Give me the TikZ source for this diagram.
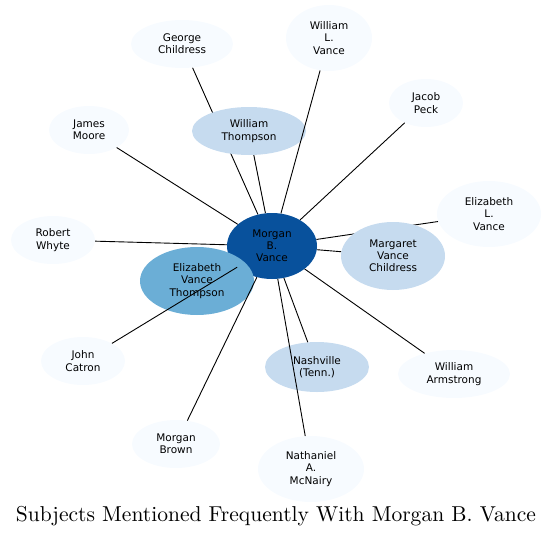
\documentclass[tikz,border=0pt]{standalone}
\usepackage{fontspec}
\setsansfont{DejaVu Sans}
\usetikzlibrary{shapes.geometric,backgrounds}
\definecolor{cdark}{HTML}{08519C}
\definecolor{cmid}{HTML}{6BAED6}
\definecolor{clight}{HTML}{C6DBEF}
\definecolor{cpale}{HTML}{F7FBFF}
\tikzset{
  subj/.style={ellipse, inner sep=0pt, align=center, text=black,
    font=\sffamily\fontsize{10.5}{12.2}\selectfont},
  pale/.style={subj, fill=cpale},
  light/.style={subj, fill=clight},
  mid/.style={subj, fill=cmid},
  dark/.style={subj, fill=cdark},
  link/.style={draw=black, line width=0.9pt},
  sz/.style 2 args={minimum width=#1pt, minimum height=#2pt}
}
\begin{document}
\begin{tikzpicture}[x=1pt,y=-1pt]
\useasboundingbox (0,0) rectangle (553,538);
% nodes
\node[dark, sz={90}{66}] (mbv) at (272,246) {Morgan\\B.\\Vance};
\node[mid, sz={114}{68}] (evt) at (197,281) {Elizabeth\\Vance\\Thompson};
\node[pale, sz={86}{66}] (wlv) at (329,38) {William\\L.\\Vance};
\node[pale, sz={102}{48}] (gc) at (182,44) {George\\Childress};
\node[pale, sz={74}{48}] (jp) at (426,103) {Jacob\\Peck};
\node[pale, sz={80}{48}] (jm) at (89,130) {James\\Moore};
\node[light, sz={114}{48}] (wt) at (249,131) {William\\Thompson};
\node[pale, sz={104}{66}] (elv) at (489,214) {Elizabeth\\L.\\Vance};
\node[pale, sz={84}{48}] (rw) at (53,240) {Robert\\Whyte};
\node[light, sz={104}{68}] (mvc) at (393,256) {Margaret\\Vance\\Childress};
\node[pale, sz={84}{48}] (jc) at (83,361) {John\\Catron};
\node[light, sz={104}{50}] (nash) at (317,367) {Nashville\\(Tenn.)};
\node[pale, sz={112}{48}] (wa) at (454,374) {William\\Armstrong};
\node[pale, sz={88}{48}] (mb) at (176,444) {Morgan\\Brown};
\node[pale, sz={106}{66}] (nam) at (311,469) {Nathaniel\\A.\\McNairy};
% edges behind nodes
\begin{scope}[on background layer]
\draw[link] (mbv) -- (gc);
\draw[link] (mbv) -- (elv);
\end{scope}
% edges
\draw[link] (mbv) -- (wlv);
\draw[link] (mbv) -- (wt);
\draw[link] (mbv) -- (jp);
\draw[link] (mbv) -- (jm);
\draw[link] (mbv) -- (rw);
\draw[link] (mbv) -- (mvc);
\draw[link] (mbv) -- (jc);
\draw[link] (mbv) -- (nash);
\draw[link] (mbv) -- (wa);
\draw[link] (mbv) -- (mb);
\draw[link] (mbv) -- (nam);
% title
\node (title) at (276,516) {\resizebox{520pt}{!}{Subjects Mentioned Frequently With Morgan B. Vance}};
\end{tikzpicture}
\end{document}
